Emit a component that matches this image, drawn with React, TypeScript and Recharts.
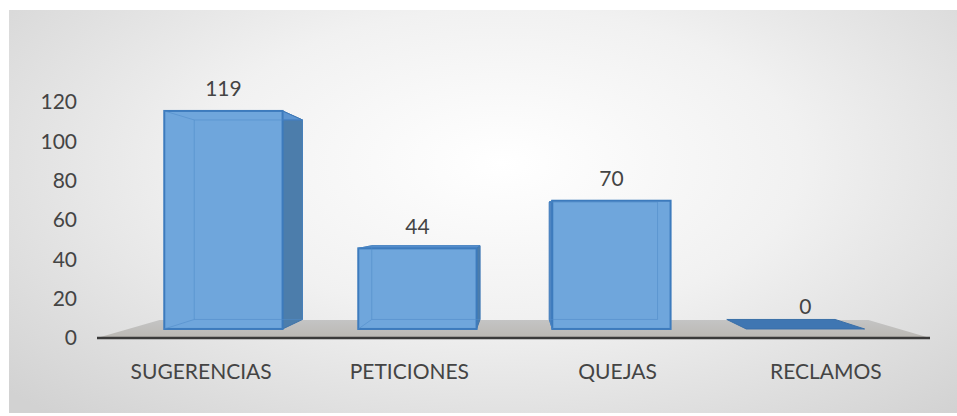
import React from 'react'
import { BarChart, Bar, XAxis, YAxis, ReferenceArea } from 'recharts'

const categories = ['SUGERENCIAS', 'PETICIONES', 'QUEJAS', 'RECLAMOS']
const counts = [119, 44, 70, 0]
const yTicks = [0, 20, 40, 60, 80, 100, 120]

const data = categories.map((name, i) => ({ name, value: counts[i] }))

// fake 3d: bars sit a little behind the axis plane, depth goes toward a vanishing point
const PLANE = { x: 522, y: 206, s: 0.9316 }
const VP = { x: 517, y: 217 }
const DEPTH = 0.085
const FLOOR_DEPTH = 0.149

const toPlane = (x: number, y: number): [number, number] => [
  PLANE.x + (x - PLANE.x) * PLANE.s,
  PLANE.y + (y - PLANE.y) * PLANE.s,
]
const back = (p: [number, number], k: number): [number, number] => [p[0] + (VP.x - p[0]) * k, p[1] + (VP.y - p[1]) * k]
const pts = (arr: [number, number][]) => arr.map((p) => p.join(',')).join(' ')

const textColor = '#444444'
const font = 'Lato, "Noto Sans", sans-serif'

function Box3D(props: any) {
  const { x, y, width, height, payload } = props
  const ftl = toPlane(x, y)
  const ftr = toPlane(x + width, y)
  const fbl = toPlane(x, y + height)
  const fbr = toPlane(x + width, y + height)
  const btl = back(ftl, DEPTH)
  const btr = back(ftr, DEPTH)
  const bbl = back(fbl, DEPTH)
  const bbr = back(fbr, DEPTH)
  const flat = Math.abs(fbl[1] - ftl[1]) < 0.5
  const cx = (ftl[0] + ftr[0]) / 2

  return (
    <g>
      {flat ? (
        <polygon points={pts([fbl, fbr, bbr, bbl])} fill="#3f76b2" stroke="#3a6fa8" strokeWidth={1} />
      ) : (
        <g>
          {btr[0] > ftr[0] && (
            <polygon points={pts([ftr, btr, bbr, fbr])} fill="#4c7dab" stroke="#3f73a8" strokeWidth={1} />
          )}
          {btl[0] < ftl[0] && (
            <polygon points={pts([ftl, btl, bbl, fbl])} fill="#4f86c2" stroke="#3f77b6" strokeWidth={1} />
          )}
          <polygon points={pts([ftl, ftr, btr, btl])} fill="#5c94d0" stroke="#3c78b8" strokeWidth={1} />
          <rect
            x={ftl[0]}
            y={ftl[1]}
            width={ftr[0] - ftl[0]}
            height={fbl[1] - ftl[1]}
            fill="#6fa6dc"
            stroke="#3d7bbd"
            strokeWidth={2}
          />
          {/* back edges seen through the glassy front */}
          <polyline points={pts([ftl, btl, bbl, bbr, btr])} fill="none" stroke="#4f8bc9" strokeWidth={1} opacity={0.55} />
          <polyline points={pts([btl, btr])} fill="none" stroke="#4f8bc9" strokeWidth={1} opacity={0.55} />
          <polyline points={pts([fbl, bbl])} fill="none" stroke="#4f8bc9" strokeWidth={1} opacity={0.55} />
        </g>
      )}
      <text x={cx} y={ftl[1] - 23} textAnchor="middle" dominantBaseline="central" fontSize={21} fontFamily={font} fill={textColor}>
        {payload.value}
      </text>
    </g>
  )
}

function Floor(props: any) {
  const { x, y, width, height } = props
  const bottom = y + height
  const fl: [number, number] = [x, bottom]
  const fr: [number, number] = [x + width, bottom]
  const bl = back(fl, FLOOR_DEPTH)
  const br = back(fr, FLOOR_DEPTH)
  return (
    <g>
      <defs>
        <linearGradient id="floorGrad" x1="0" y1="0" x2="0" y2="1">
          <stop offset="0%" stopColor="#c4c4c4" />
          <stop offset="100%" stopColor="#bbb8b3" />
        </linearGradient>
      </defs>
      <polygon points={pts([fl, fr, br, bl])} fill="url(#floorGrad)" />
    </g>
  )
}

export default function App() {
  return (
    <div style={{ position: 'fixed', left: 0, top: 0, width: 957, height: 416, background: '#ffffff' }}>
      <div
        style={{
          position: 'absolute',
          left: 9,
          top: 10,
          width: 948,
          height: 403,
          background: 'radial-gradient(ellipse 70% 85% at 52% 38%, #ffffff 0%, #f1f1f1 45%, #d2d2d2 100%)',
        }}
      />
      <div style={{ position: 'absolute', left: 0, top: 0 }}>
        <BarChart width={957} height={416} data={data} margin={{ top: 102, right: 27, bottom: 28, left: 0 }}>
          <XAxis
            dataKey="name"
            height={50}
            tickLine={false}
            tickMargin={20}
            axisLine={{ stroke: '#3a3a3a', strokeWidth: 2.5 }}
            tick={{ fontSize: 21, fill: textColor, fontFamily: font }}
          />
          <YAxis
            width={97}
            domain={[0, 120]}
            ticks={yTicks}
            axisLine={false}
            tickLine={false}
            tickMargin={14}
            tick={{ fontSize: 21, fill: textColor, fontFamily: font }}
          />
          <ReferenceArea y1={0} y2={1} shape={<Floor />} />
          <Bar dataKey="value" barSize={127} shape={<Box3D />} isAnimationActive={false} />
        </BarChart>
      </div>
    </div>
  )
}
